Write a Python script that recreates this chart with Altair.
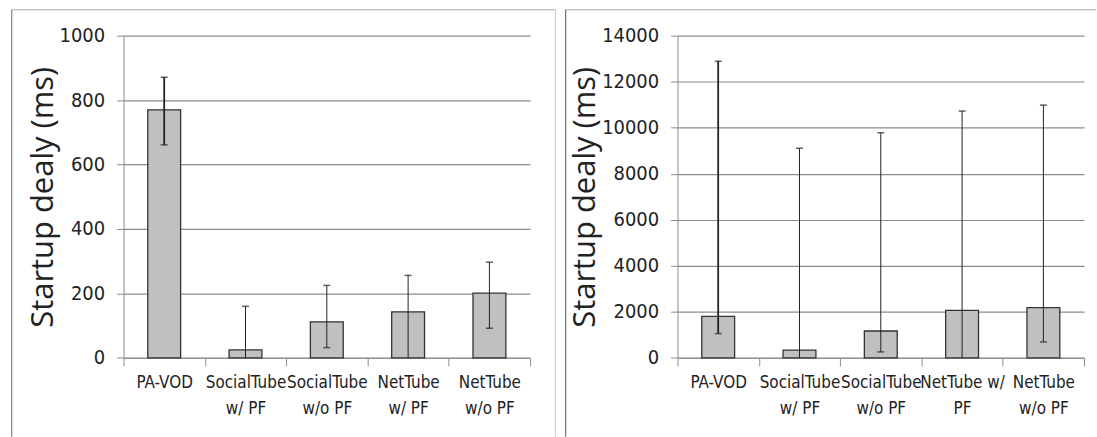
import altair as alt
import pandas as pd

categories = ["PA-VOD", "SocialTube w/ PF", "SocialTube w/o PF", "NetTube w/ PF", "NetTube w/o PF"]
left_labels = ["PA-VOD", "SocialTube|w/ PF", "SocialTube|w/o PF", "NetTube|w/ PF", "NetTube|w/o PF"]
right_labels = ["PA-VOD", "SocialTube|w/ PF", "SocialTube|w/o PF", "NetTube w/|PF", "NetTube|w/o PF"]

left_mean = [770, 25, 112, 143, 201]
left_hi = [871, 160, 225, 256, 297]
left_lo = [661, 0, 32, 0, 92]
left_ticks = [0, 200, 400, 600, 800, 1000]

right_mean = [1805, 333, 1169, 2065, 2182]
right_hi = [12888, 9108, 9784, 10723, 10983]
right_lo = [1056, 0, 260, 0, 693]
right_ticks = [0, 2000, 4000, 6000, 8000, 10000, 12000, 14000]

Y_TITLE = "Startup dealy (ms)"
W, H = 408, 323.4
GRID = "#8c8c8c"
NARROW = "DejaVu Sans Condensed, Liberation Sans Narrow, sans-serif"


def panel(labels, mean, hi, lo, ticks, frame_right, right_edge_color, left_edge_color, draw_right):
    df = pd.DataFrame({"cat": labels, "mean": mean, "hi": hi, "lo": lo})
    xenc = alt.X(
        "cat:N", sort=labels, title=None,
        scale=alt.Scale(paddingInner=0, paddingOuter=0),
        axis=alt.Axis(
            labelExpr="split(datum.label, '|')", labelAngle=0, labelFont=NARROW,
            labelFontSize=17, labelColor="#222", labelLineHeight=26, labelPadding=9,
            tickBand="extent", tickSize=8, tickColor=GRID, domainColor=GRID,
            grid=False, labelBaseline="top",
        ),
    )
    yscale = alt.Scale(domain=[ticks[0], ticks[-1]], nice=False)
    yenc = alt.Y(
        "mean:Q", scale=yscale, title=Y_TITLE,
        axis=alt.Axis(
            values=ticks, format="d", labelFont=NARROW, labelFontSize=20, labelColor="#222",
            labelPadding=12, tickSize=7, tickColor=GRID, domainColor=GRID,
            gridColor=GRID, gridWidth=1.2, titleFont="Open Sans", titleFontSize=31,
            titleFontWeight="normal", titleColor="#222", titlePadding=0,
        ),
    )
    base = alt.Chart(df)
    bars = base.mark_bar(
        width=alt.RelativeBandSize(0.404), fill="#c0c0c0", stroke="#333", strokeWidth=1.3
    ).encode(x=xenc, y=yenc)
    is_first = "datum.cat == 'PA-VOD'"
    err = base.mark_rule(color="#222").encode(
        x=alt.X("cat:N", sort=labels),
        y=alt.Y("lo:Q", scale=yscale),
        y2="hi:Q",
        strokeWidth=alt.condition(is_first, alt.value(1.8), alt.value(1.0)),
    )
    cap_hi = base.mark_tick(color="#222", size=7, thickness=1.5, orient="horizontal").encode(
        x=alt.X("cat:N", sort=labels), y=alt.Y("hi:Q", scale=yscale)
    )
    cap_lo = base.transform_filter("datum.lo > 0").mark_tick(
        color="#222", size=7, thickness=1.5, orient="horizontal"
    ).encode(x=alt.X("cat:N", sort=labels), y=alt.Y("lo:Q", scale=yscale))

    one = alt.Data(values=[{"k": 1}])
    ftop, fbot, fleft = -26, 402.5, -112.3
    top = alt.Chart(one).mark_rule(color="#a6a6a6", strokeWidth=1.2).encode(
        x=alt.value(fleft), x2=alt.value(frame_right), y=alt.value(ftop)
    )
    left = alt.Chart(one).mark_rule(color=left_edge_color, strokeWidth=1.3).encode(
        x=alt.value(fleft), y=alt.value(ftop), y2=alt.value(fbot)
    )
    layers = [top, left, bars, err, cap_hi, cap_lo]
    if draw_right:
        right = alt.Chart(one).mark_rule(color=right_edge_color, strokeWidth=1.2).encode(
            x=alt.value(frame_right), y=alt.value(ftop), y2=alt.value(fbot)
        )
        layers.append(right)
    return alt.layer(*layers).properties(width=W, height=H)


p1 = panel(left_labels, left_mean, left_hi, left_lo, left_ticks, 433.4, "#cfcfcf", "#8a8a8a", True)
p2 = panel(right_labels, right_mean, right_hi, right_lo, right_ticks, 420.0, "#cfcfcf", "#7a7a7a", False)

chart = alt.hconcat(p1, p2, spacing=9).properties(
    padding={"left": 11, "top": 8, "right": 0, "bottom": 0},
    background="white",
).configure_view(stroke=None)

chart.save("out.html", embed_options={"renderer": "svg", "actions": False})
